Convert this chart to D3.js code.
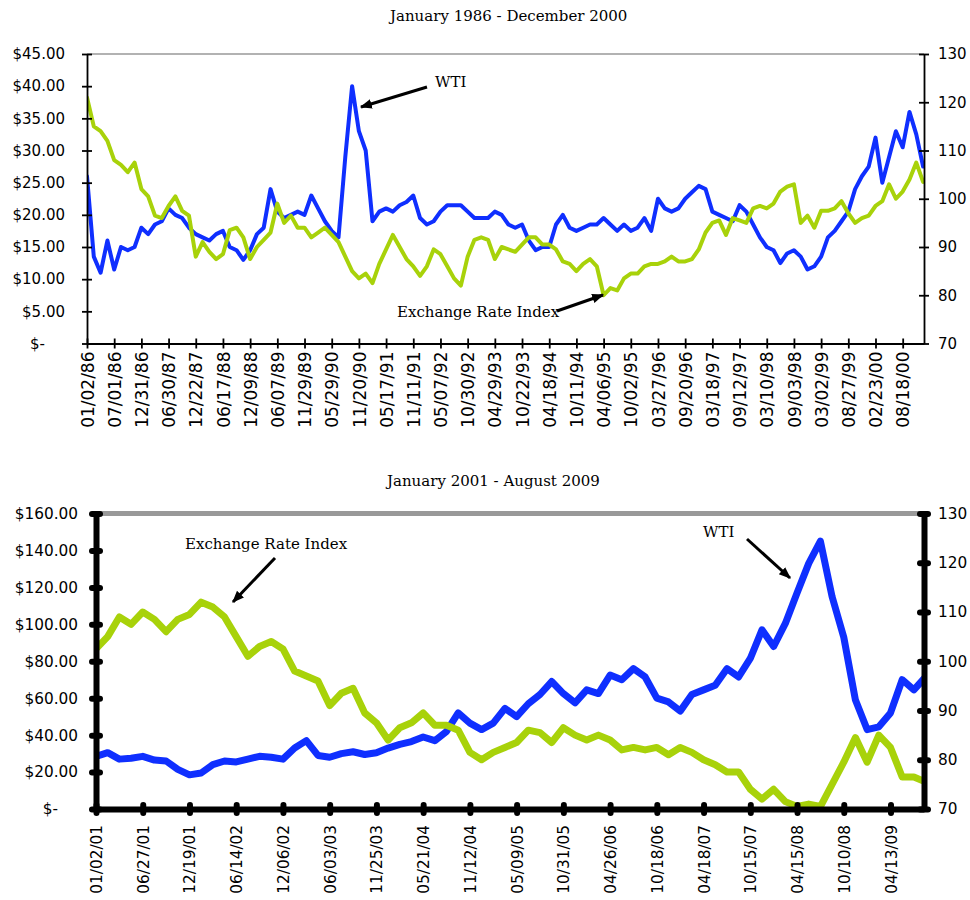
<!DOCTYPE html>
<html>
<head>
<meta charset="utf-8">
<script src="https://cdn.jsdelivr.net/npm/d3@7"></script>
<style>
  body { margin: 0; background: #fff; }
  svg { display: block; }
</style>
</head>
<body>
<svg id="chart" width="970" height="900"></svg>
<script>
// tick labels, one every 125 trading days (top) and 120 (bottom)
const topTickLabels = ["01/02/86", "07/01/86", "12/31/86", "06/30/87", "12/22/87", "06/17/88", "12/09/88",
  "06/07/89", "11/29/89", "05/29/90", "11/20/90", "05/17/91", "11/11/91", "05/07/92", "10/30/92", "04/29/93",
  "10/22/93", "04/18/94", "10/11/94", "04/06/95", "10/02/95", "03/27/96", "09/20/96", "03/18/97", "09/12/97",
  "03/10/98", "09/03/98", "03/02/99", "08/27/99", "02/23/00", "08/18/00"];
const bottomTickLabels = ["01/02/01", "06/27/01", "12/19/01", "06/14/02", "12/06/02", "06/03/03", "11/25/03",
  "05/21/04", "11/12/04", "05/09/05", "10/31/05", "04/26/06", "10/18/06", "04/18/07", "10/15/07", "04/15/08",
  "10/10/08", "04/13/09"];

// values read every quarter of a tick interval
const topWti = [26, 13.5, 11, 16, 11.5, 15, 14.5, 15, 18, 17,
  18.5, 19, 21, 20, 19.5, 18, 17, 16.5, 16, 17,
  17.5, 15, 14.5, 13, 14.5, 17, 18, 24, 20.5, 19.5,
  20, 20.5, 20, 23, 21, 19, 17.5, 16.5, 29, 40,
  33, 30, 19, 20.5, 21, 20.5, 21.5, 22, 23, 19.5,
  18.5, 19, 20.5, 21.5, 21.5, 21.5, 20.5, 19.5, 19.5,
  19.5, 20.5, 20, 18.5, 18, 18.5, 16, 14.5, 15, 15, 18.5,
  20, 18, 17.5, 18, 18.5, 18.5, 19.5, 18.5, 17.5, 18.5,
  17.5, 18, 19.5, 17.5, 22.5, 21, 20.5, 21, 22.5, 23.5,
  24.5, 24, 20.5, 20, 19.5, 19, 21.5, 20.5, 18.5, 16.5,
  15, 14.5, 12.5, 14, 14.5, 13.5, 11.5, 12, 13.5, 16.5,
  17.5, 19, 20.5, 24, 26, 27.5, 32, 25, 29, 33,
  30.5, 36, 32.5, 27.5];
const topRate = [121, 115, 114, 112, 108, 107, 105.5, 107.5, 102, 100.5,
  96.5, 96, 98.5, 100.5, 97.5, 96.5, 88, 91, 89, 87.5,
  88.5, 93.5, 94, 92, 87.5, 90, 91.5, 93, 99, 95,
  96.5, 94, 94, 92, 93, 94, 92.5, 91, 88, 85,
  83.5, 84.5, 82.5, 86.5, 89.5, 92.5, 90, 87.5, 86, 84,
  86, 89.5, 88.5, 86, 83.5, 82, 88, 91.5, 92,
  91.5, 87.5, 90, 89.5, 89, 90.5, 92, 92, 90.5, 90.5, 89.5,
  87, 86.5, 85, 86.5, 87.5, 86, 80, 81.5, 81, 83.5,
  84.5, 84.5, 86, 86.5, 86.5, 87, 88, 87, 87, 87.5,
  89.5, 93, 95, 95.5, 92.5, 96, 95.5, 95, 98, 98.5,
  98, 99, 101.5, 102.5, 103, 95, 96.5, 94, 97.5, 97.5,
  98, 99.5, 97, 95, 96, 96.5, 98.5, 99.5, 103, 100,
  101.5, 104, 107.5, 103.5];
const bottomWti = [28.5, 30.5, 27, 27.5, 28.5, 26.5, 26, 21.5, 18.5, 19.5,
  24, 26, 25.5, 27, 28.5, 28, 27, 33, 37, 29,
  28, 30, 31, 29.5, 30.5, 33, 35, 36.5, 39, 37,
  42, 52, 46.5, 43,
  46.5, 54.5, 50, 57, 62, 69, 62.5, 57.5, 64.5, 62.5,
  72.5, 70, 76, 71.5, 60, 58, 53, 62, 64.5, 67,
  76, 71.5, 81.5, 97, 88, 100.5, 117, 133, 145, 115,
  93, 59, 43, 44.5, 52, 70, 64.5, 71.5];
const bottomRate = [102.5, 105, 109, 107.5, 110, 108.5, 106, 108.5, 109.5, 112,
  111, 109, 105, 101, 103, 104, 102.5, 98, 97, 96,
  91, 93.5, 94.5, 89.5, 87.5, 84, 86.5, 87.5, 89.5, 87,
  87, 86, 81.5, 80,
  81.5, 82.5, 83.5, 86, 85.5, 83.5, 86.5, 85, 84, 85,
  84, 82, 82.5, 82, 82.5, 81, 82.5, 81.5, 80, 79,
  77.5, 77.5, 74, 72, 74, 71.5, 70.5, 71, 70.5, 75,
  79.5, 84.5, 79.5, 85, 82.5, 76.5, 76.5, 75.5];

const blue = "#0f2fff";
const green = "#a8d20a";
const sans = "DejaVu Sans, sans-serif";
const serif = "DejaVu Serif, serif";

const svg = d3.select("#chart");

svg.append("defs").append("marker")
  .attr("id", "arrow")
  .attr("viewBox", "0 0 10 10")
  .attr("refX", 9).attr("refY", 5)
  .attr("markerWidth", 4).attr("markerHeight", 4)
  .attr("markerUnits", "strokeWidth")
  .attr("orient", "auto")
  .append("path").attr("d", "M0,1 L10,5 L0,9 Z").attr("fill", "#000");

function money(d) {
  return d === 0 ? "$-" : "$" + d.toFixed(2);
}

function drawPanel(p) {
  const x = d3.scaleLinear().domain([0, p.xMax]).range([p.left, p.right]);
  const yL = d3.scaleLinear().domain([0, p.leftMax]).range([p.bottom, p.top]);
  const yR = d3.scaleLinear().domain([70, 130]).range([p.bottom, p.top]);

  svg.append("clipPath").attr("id", p.id + "clip")
    .append("rect")
    .attr("x", p.left).attr("y", p.top - 20)
    .attr("width", p.right - p.left).attr("height", p.bottom - p.top + 40);

  const plot = svg.append("g").attr("clip-path", `url(#${p.id}clip)`);

  const lineL = d3.line().x((d, i) => x(i * p.step)).y(d => yL(d));
  const lineR = d3.line().x((d, i) => x(i * p.step)).y(d => yR(d));

  plot.append("path").datum(p.wti)
    .attr("d", lineL).attr("fill", "none").attr("stroke", blue)
    .attr("stroke-width", p.lw).attr("stroke-linejoin", "round").attr("stroke-linecap", "round");
  plot.append("path").datum(p.rate)
    .attr("d", lineR).attr("fill", "none").attr("stroke", green)
    .attr("stroke-width", p.lw).attr("stroke-linejoin", "round").attr("stroke-linecap", "round");

  // gray top border
  svg.append("line")
    .attr("x1", p.left).attr("x2", p.right)
    .attr("y1", p.top).attr("y2", p.top)
    .attr("stroke", "#999").attr("stroke-width", p.topW);

  // left axis
  const gl = svg.append("g")
    .attr("transform", `translate(${p.left},0)`)
    .call(d3.axisLeft(yL).tickValues(d3.range(0, p.leftMax + 1, p.leftStep))
      .tickFormat(money).tickSizeInner(p.tickOut).tickSizeOuter(0).tickPadding(p.leftPad));
  gl.selectAll(".tick line").attr("x1", p.tickIn);
  gl.selectAll(".tick text").filter(d => d === 0).attr("dx", -20);

  // right axis
  const gr = svg.append("g")
    .attr("transform", `translate(${p.right},0)`)
    .call(d3.axisRight(yR).tickValues(d3.range(70, 131, 10))
      .tickSizeInner(p.tickOut).tickSizeOuter(0).tickPadding(p.rightPad));
  gr.selectAll(".tick line").attr("x1", -p.tickIn);

  // bottom axis
  const gb = svg.append("g")
    .attr("transform", `translate(0,${p.bottom})`)
    .call(d3.axisBottom(x).tickValues(p.labels.map((d, i) => i * p.tickEvery))
      .tickFormat((d, i) => p.labels[i]).tickSizeInner(p.tickOut).tickSizeOuter(0));
  gb.selectAll(".tick line").attr("y1", -p.tickIn);
  gb.selectAll(".tick text")
    .attr("transform", "rotate(-90)")
    .attr("text-anchor", "end")
    .attr("x", -p.xPad).attr("y", 0).attr("dy", "0.36em")
    .style("font-size", p.xFont + "px");

  [gl, gr, gb].forEach(g => {
    g.attr("font-family", sans).attr("font-size", p.yFont);
    g.selectAll("text").attr("fill", "#000");
    g.select(".domain").attr("stroke", "#000").attr("stroke-width", p.axisW);
    g.selectAll(".tick line").attr("stroke", "#000")
      .attr("stroke-width", p.tickW).attr("stroke-linecap", p.cap);
  });

  svg.append("text")
    .attr("x", p.titleX).attr("y", p.titleY)
    .attr("font-family", serif).attr("font-size", 15)
    .text(p.title);

  p.notes.forEach(n => {
    svg.append("text")
      .attr("x", n.tx).attr("y", n.ty)
      .attr("font-family", serif).attr("font-size", 15)
      .text(n.text);
    svg.append("line")
      .attr("x1", n.ax1).attr("y1", n.ay1).attr("x2", n.ax2).attr("y2", n.ay2)
      .attr("stroke", "#000").attr("stroke-width", 3)
      .attr("marker-end", "url(#arrow)");
  });
}

drawPanel({
  id: "top", left: 87, right: 924, top: 54, bottom: 343.5,
  xMax: 3848, step: 125 / 4, tickEvery: 125, labels: topTickLabels,
  leftMax: 45, leftStep: 5, wti: topWti, rate: topRate,
  lw: 4, topW: 1.5, axisW: 1.8, tickW: 1.8, cap: "butt",
  tickOut: 5, tickIn: 5, leftPad: 17, rightPad: 9, xPad: 8,
  yFont: 15, xFont: 17,
  title: "January 1986 - December 2000", titleX: 390, titleY: 21,
  notes: [
    { text: "WTI", tx: 435, ty: 87, ax1: 427, ay1: 87, ax2: 361, ay2: 107 },
    { text: "Exchange Rate Index", tx: 397, ty: 317, ax1: 557, ay1: 311, ax2: 603, ay2: 295 }
  ]
});

drawPanel({
  id: "bottom", left: 96, right: 924, top: 513.5, bottom: 809,
  xMax: 2126, step: 30, tickEvery: 120, labels: bottomTickLabels,
  leftMax: 160, leftStep: 20, wti: bottomWti, rate: bottomRate,
  lw: 7, topW: 5, axisW: 6, tickW: 6, cap: "round",
  tickOut: 4, tickIn: 4, leftPad: 14, rightPad: 10, xPad: 16,
  yFont: 15.3, xFont: 15.3,
  title: "January 2001 - August 2009", titleX: 387, titleY: 486,
  notes: [
    { text: "Exchange Rate Index", tx: 185, ty: 549, ax1: 275, ay1: 558, ax2: 233, ay2: 602 },
    { text: "WTI", tx: 703, ty: 537, ax1: 747, ay1: 539, ax2: 790, ay2: 578 }
  ]
});
</script>
</body>
</html>
